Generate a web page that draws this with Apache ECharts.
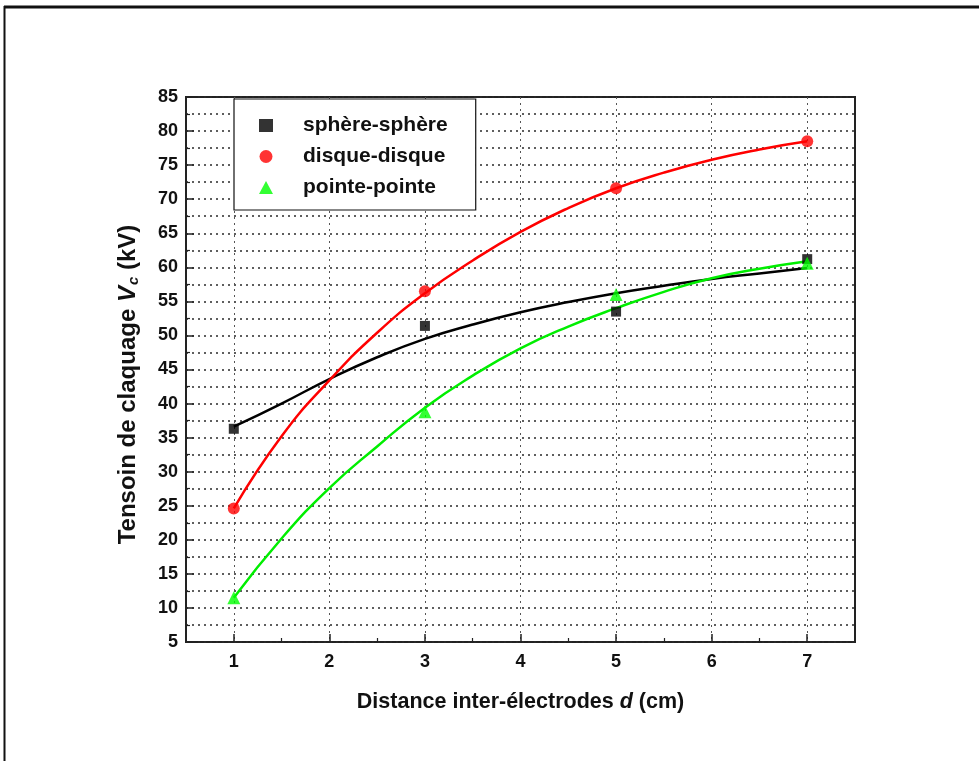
<!DOCTYPE html>
<html>
<head>
<meta charset="utf-8">
<script src="https://cdn.jsdelivr.net/npm/echarts@6/dist/echarts.min.js"></script>
<style>
  html, body { margin: 0; padding: 0; background: #fff; }
  #chart { width: 979px; height: 761px; }
</style>
</head>
<body>
<div id="chart"></div>
<script>
// Measured breakdown voltages (kV) against electrode gap (cm)
const distances = [1, 3, 5, 7];
const sphereSphere = [36.3, 51.4, 53.5, 61.2];
const disqueDisque = [24.6, 56.5, 71.6, 78.5];
const pointePointe = [11.5, 38.8, 56.0, 60.6];

// Fitted trend curves, sampled every 0.5 cm
const fitDistances = [1, 1.5, 2, 2.5, 3, 3.5, 4, 4.5, 5, 5.5, 6, 6.5, 7];
const fitSphere = [36.6, 40.0, 43.6, 46.8, 49.5, 51.6, 53.4, 54.9, 56.2, 57.3, 58.3, 59.1, 59.9];
const fitDisque = [24.6, 35.2, 43.4, 50.4, 56.2, 61.0, 65.2, 68.7, 71.6, 73.9, 75.8, 77.3, 78.5];
const fitPointe = [11.5, 20.2, 27.6, 33.7, 39.4, 44.1, 48.1, 51.3, 54.0, 56.4, 58.4, 59.8, 60.9];

// Axis ticks
const xTickLabels = [1, 2, 3, 4, 5, 6, 7];
const xHalfTicks = [1.5, 2.5, 3.5, 4.5, 5.5, 6.5];

const FONT = '"Liberation Sans", Arial, sans-serif';
const zip = (xs, ys) => xs.map((x, i) => [x, ys[i]]);

const chart = echarts.init(document.getElementById('chart'), null, { renderer: 'canvas' });

const gridDots = { color: '#2a2a2a', width: 1.6, type: [2, 4] };

chart.setOption({
  backgroundColor: '#fff',
  animation: false,
  graphic: [
    { type: 'line', shape: { x1: 4, y1: 7, x2: 979, y2: 7 }, style: { stroke: '#111', lineWidth: 3 } },
    { type: 'line', shape: { x1: 4.5, y1: 6, x2: 4.5, y2: 761 }, style: { stroke: '#111', lineWidth: 2 } }
  ],
  grid: {
    left: 186, top: 97, right: 124, bottom: 119,
    show: true, borderColor: '#222', borderWidth: 2, backgroundColor: 'transparent'
  },
  legend: {
    left: 234, top: 99,
    orient: 'vertical',
    data: ['sphère-sphère', 'disque-disque', 'pointe-pointe'],
    selectedMode: false,
    backgroundColor: '#fff',
    borderColor: '#111', borderWidth: 1.2,
    padding: [16, 28, 12, 25],
    itemWidth: 14, itemHeight: 13, itemGap: 10,
    textStyle: { fontFamily: FONT, fontSize: 21, fontWeight: 'bold', color: '#111',
                 lineHeight: 21, padding: [0, 0, 0, 25] }
  },
  xAxis: [{
    type: 'value', min: 0.5, max: 7.5, interval: 0.5,
    name: '{b|Distance inter-électrodes }{i|d}{b| (cm)}',
    nameLocation: 'middle', nameGap: 49,
    nameTextStyle: {
      rich: {
        b: { fontFamily: FONT, fontSize: 21.5, fontWeight: 'bold', color: '#111' },
        i: { fontFamily: FONT, fontSize: 21.5, fontWeight: 'bold', fontStyle: 'italic', color: '#111' }
      }
    },
    axisLine: { show: false },
    axisTick: { show: true, inside: true, length: 8, lineStyle: { color: '#222', width: 1.5 }, customValues: xTickLabels },
    axisLabel: { customValues: xTickLabels, margin: 11, fontFamily: FONT, fontSize: 18, fontWeight: 'bold', color: '#111' },
    splitLine: { show: true, lineStyle: { color: '#555', width: 1, type: [2, 4] } }
  }, {
    type: 'value', min: 0.5, max: 7.5, interval: 0.5, position: 'bottom',
    axisLine: { show: false },
    axisTick: { show: true, inside: true, length: 4, lineStyle: { color: '#222', width: 1.2 }, customValues: xHalfTicks },
    axisLabel: { show: false },
    splitLine: { show: false }
  }],
  yAxis: {
    type: 'value', min: 5, max: 85, interval: 5,
    name: '{b|Tensoin de claquage }{i|V}{s|c}{b| (kV)}',
    nameLocation: 'middle', nameGap: 44, nameRotate: 90,
    nameTextStyle: {
      padding: [0, 30, 0, 0],
      rich: {
        b: { fontFamily: FONT, fontSize: 24, fontWeight: 'bold', color: '#111', lineHeight: 28 },
        i: { fontFamily: FONT, fontSize: 24, fontWeight: 'bold', fontStyle: 'italic', color: '#111', lineHeight: 28 },
        s: { fontFamily: FONT, fontSize: 15, fontWeight: 'bold', fontStyle: 'italic', color: '#111', lineHeight: 28, padding: [11, 0, 0, 1] }
      }
    },
    axisLine: { show: false },
    axisTick: { show: true, inside: true, length: 8, lineStyle: { color: '#222', width: 1.5 } },
    minorTick: { show: true, splitNumber: 2, length: 4, lineStyle: { color: '#222', width: 1.2 } },
    axisLabel: { margin: 8, fontFamily: FONT, fontSize: 18, fontWeight: 'bold', color: '#111' },
    splitLine: { show: true, lineStyle: gridDots },
    minorSplitLine: { show: true, lineStyle: gridDots }
  },
  series: [
    { name: 'fit sphère', type: 'line', smooth: true, showSymbol: false, silent: true,
      data: zip(fitDistances, fitSphere), lineStyle: { color: '#000', width: 2.5 }, z: 3 },
    { name: 'fit disque', type: 'line', smooth: true, showSymbol: false, silent: true,
      data: zip(fitDistances, fitDisque), lineStyle: { color: '#ff0000', width: 2.5 }, z: 3 },
    { name: 'fit pointe', type: 'line', smooth: true, showSymbol: false, silent: true,
      data: zip(fitDistances, fitPointe), lineStyle: { color: '#00ee00', width: 2.5 }, z: 3 },
    { name: 'sphère-sphère', type: 'scatter', symbol: 'rect', symbolSize: 10,
      itemStyle: { color: '#000' }, data: zip(distances, sphereSphere), z: 4 },
    { name: 'disque-disque', type: 'scatter', symbol: 'circle', symbolSize: 12,
      itemStyle: { color: '#ff0000' }, data: zip(distances, disqueDisque), z: 4 },
    { name: 'pointe-pointe', type: 'scatter', symbol: 'triangle', symbolSize: 13,
      itemStyle: { color: '#00ff00' }, data: zip(distances, pointePointe), z: 4 }
  ]
});
</script>
</body>
</html>
